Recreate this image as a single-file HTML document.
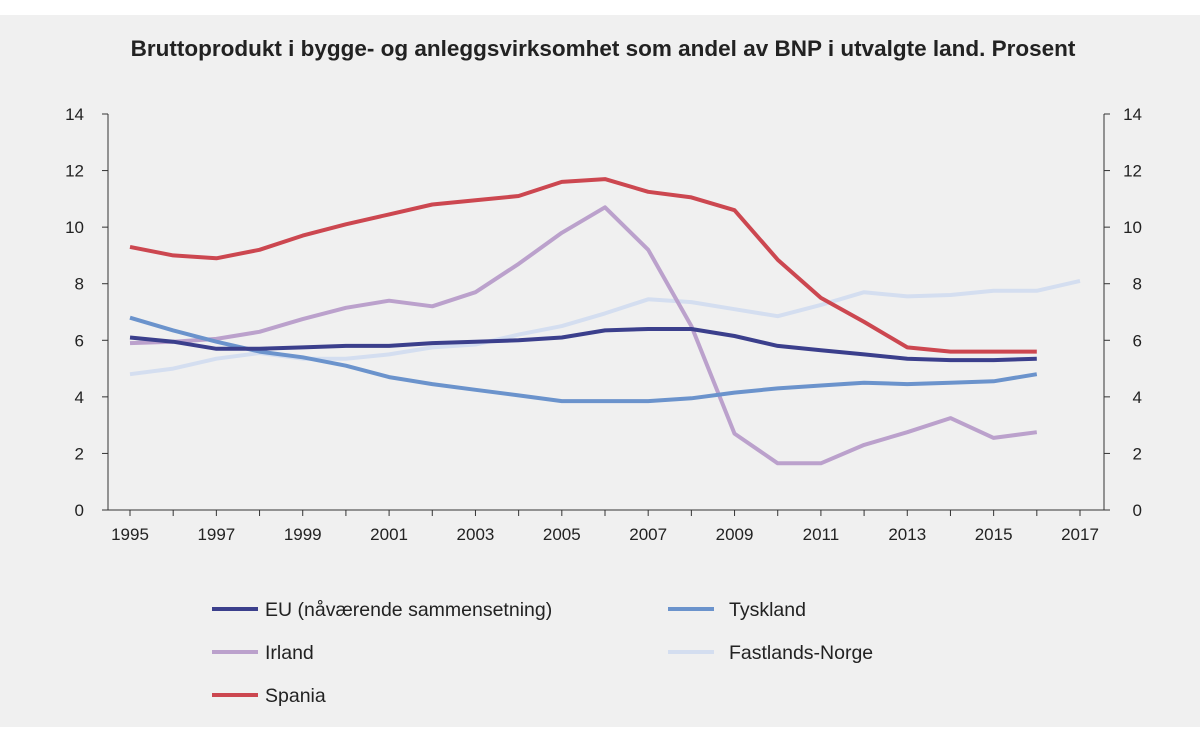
<!DOCTYPE html>
<html><head><meta charset="utf-8"><style>
body{margin:0;background:#fff;}
#wrap{position:absolute;left:0;top:0;width:1200px;height:741px;background:#fff;}
#panel{position:absolute;left:0;top:15px;width:1200px;height:712px;background:#f0f0f0;}
text{font-family:"Liberation Sans",sans-serif;}
</style></head><body>
<div id="wrap">
<div id="panel"></div>
<svg id="chart" width="1200" height="741" style="position:absolute;left:0;top:0">
<text x="603" y="56" text-anchor="middle" font-size="22.5" font-weight="bold" fill="#222">Bruttoprodukt i bygge- og anleggsvirksomhet som andel av BNP i utvalgte land. Prosent</text>
<g id="axes"></g><g id="lines"></g><g id="legend"></g>
</svg>
</div>
<script>
const years=[1995,1996,1997,1998,1999,2000,2001,2002,2003,2004,2005,2006,2007,2008,2009,2010,2011,2012,2013,2014,2015,2016,2017];
const yTicks=[0,2,4,6,8,10,12,14];
const xTickLabels=[1995,1997,1999,2001,2003,2005,2007,2009,2011,2013,2015,2017];
const eu=[6.1,5.95,5.7,5.7,5.75,5.8,5.8,5.9,5.95,6.0,6.1,6.35,6.4,6.4,6.15,5.8,5.65,5.5,5.35,5.3,5.3,5.35];
const tyskland=[6.8,6.35,5.95,5.6,5.4,5.1,4.7,4.45,4.25,4.05,3.85,3.85,3.85,3.95,4.15,4.3,4.4,4.5,4.45,4.5,4.55,4.8];
const irland=[5.9,5.95,6.05,6.3,6.75,7.15,7.4,7.2,7.7,8.7,9.8,10.7,9.2,6.5,2.7,1.65,1.65,2.3,2.75,3.25,2.55,2.75];
const norge=[4.8,5.0,5.35,5.55,5.35,5.35,5.5,5.75,5.85,6.2,6.5,6.95,7.45,7.35,7.1,6.85,7.25,7.7,7.55,7.6,7.75,7.75,8.1];
const spania=[9.3,9.0,8.9,9.2,9.7,10.1,10.45,10.8,10.95,11.1,11.6,11.7,11.25,11.05,10.6,8.85,7.5,6.65,5.75,5.6,5.6,5.6];
const seriesNames=["EU (nåværende sammensetning)","Tyskland","Irland","Fastlands-Norge","Spania"];
const NS="http://www.w3.org/2000/svg";
const x=v=>130+(v-1995)*(1080-130)/22;
const y=v=>510-v*(510-114)/14;
function mk(tag,attrs,parent){const e=document.createElementNS(NS,tag);for(const k in attrs)e.setAttribute(k,attrs[k]);parent.appendChild(e);return e;}
const axes=document.getElementById('axes');
let l=mk('line',{x1:108,x2:108,y1:114,y2:510,stroke:'#333','stroke-width':1},axes);


l=mk('line',{x1:1104,x2:1104,y1:114,y2:510,stroke:'#333','stroke-width':1},axes);


l=mk('line',{x1:108,x2:1104,y1:510,y2:510,stroke:'#333','stroke-width':1},axes);


yTicks.forEach(t=>{
 let a=mk('line',{x1:102,x2:108,y1:y(t),y2:y(t),stroke:'#333'},axes);
 
 
 a=mk('line',{x1:1104,x2:1110,y1:y(t),y2:y(t),stroke:'#333'},axes);
 
 
 let tx=mk('text',{x:84,y:y(t)+6,'text-anchor':'end','font-size':17,fill:'#222'},axes);tx.textContent=t;
 
 
 tx=mk('text',{x:1142,y:y(t)+6,'text-anchor':'end','font-size':17,fill:'#222'},axes);tx.textContent=t;
 
 
});
years.forEach(yr=>{
 const a=mk('line',{x1:x(yr),x2:x(yr),y1:510,y2:516,stroke:'#333'},axes);
 
 
});
xTickLabels.forEach(yr=>{
 const tx=mk('text',{x:x(yr),y:540,'text-anchor':'middle','font-size':17,fill:'#222'},axes);tx.textContent=yr;
 
 
});
const colors=['#3b3f8c','#6b93cc','#bba1cc','#d4def0','#cc4750'];
const data=[eu,tyskland,irland,norge,spania];
const ids=['eu','tyskland','irland','norge','spania'];
const lines=document.getElementById('lines');
[3,2,1,0,4].forEach(i=>{
 const d=data[i].map((v,j)=>(j?'L':'M')+x(years[j]).toFixed(1)+','+y(v).toFixed(1)).join(' ');
 const p=mk('path',{d:d,fill:'none',stroke:colors[i],'stroke-width':4,'stroke-linejoin':'round'},lines);
 
 
});
const leg=document.getElementById('legend');
const pos=[[212,609],[668,609],[212,652],[668,652],[212,695]];
seriesNames.forEach((n,i)=>{
 const g=mk('g',{},leg);
 
 
 mk('line',{x1:pos[i][0],x2:pos[i][0]+46,y1:pos[i][1],y2:pos[i][1],stroke:colors[i],'stroke-width':4},g);
 const t=mk('text',{x:pos[i][0]+(i%2?61:53),y:pos[i][1]+7,'font-size':19.5,fill:'#222'},g);t.textContent=n;
});
</script>
</body></html>
